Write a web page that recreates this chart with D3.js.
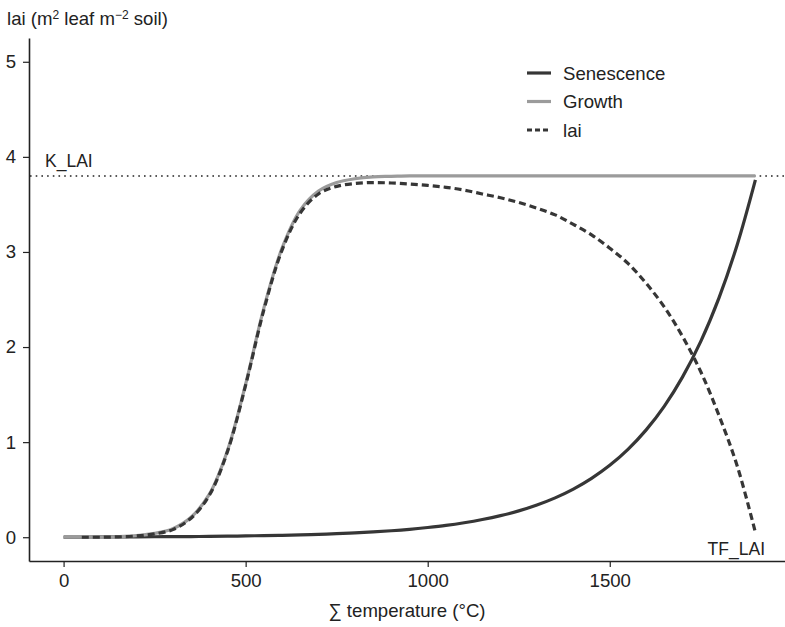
<!DOCTYPE html>
<html>
<head>
<meta charset="utf-8">
<script src="https://cdn.jsdelivr.net/npm/d3@7"></script>
<style>
  html, body { margin: 0; padding: 0; background: #fff; }
  svg { display: block; font-family: "Liberation Sans", Arial, Helvetica, sans-serif; }
</style>
</head>
<body>
<svg id="chart" width="785" height="627"></svg>
<script>
// ---- data ----
const temperature = [0,50,100,150,200,250,300,350,400,450,500,550,600,650,700,750,800,850,900,950,
  1000,1050,1100,1150,1200,1250,1300,1350,1400,1450,1500,1550,1600,1650,1700,1750,1800,1850,1900];
const growth = [0,0.001,0.003,0.007,0.017,0.04,0.09,0.21,0.45,0.91,1.61,2.41,3.04,3.44,3.64,3.73,3.77,3.79,3.795,3.80,
  3.80,3.80,3.80,3.80,3.80,3.80,3.80,3.80,3.80,3.80,3.80,3.80,3.80,3.80,3.80,3.80,3.80,3.80,3.80];
const senescence = [0.002,0.002,0.003,0.003,0.004,0.005,0.006,0.007,0.009,0.011,0.014,0.017,0.020,0.025,0.031,0.037,0.046,0.056,0.068,0.083,
  0.102,0.124,0.152,0.186,0.227,0.277,0.339,0.414,0.506,0.619,0.756,0.924,1.129,1.379,1.686,2.060,2.517,3.076,3.758];
const lai = [null,0.0,0.0,0.004,0.013,0.035,0.08,0.20,0.44,0.90,1.60,2.39,3.02,3.41,3.61,3.69,3.72,3.73,3.725,3.715,
  3.70,3.68,3.65,3.61,3.57,3.52,3.46,3.39,3.29,3.18,3.04,2.88,2.67,2.42,2.11,1.74,1.28,0.75,0.05];
const kLAI = 3.8;
const xTicks = [0, 500, 1000, 1500];
const yTicks = [0, 1, 2, 3, 4, 5];
const seriesNames = ["Senescence", "Growth", "lai"];

// ---- layout ----
const svg = d3.select("#chart");
const x = d3.scaleLinear().domain([-95, 1995]).range([29, 790]);
const y = d3.scaleLinear().domain([-0.25, 5.25]).range([561, 38]);
const dark = "#363636", grey = "#9b9b9b", axisCol = "#222";
const fs = 18.6;

// axes
const xAxis = svg.append("g").attr("transform", "translate(0,561)")
  .call(d3.axisBottom(x).tickValues(xTicks).tickFormat(d3.format("d"))
    .tickSize(6).tickPadding(7).tickSizeOuter(0));
const yAxis = svg.append("g").attr("transform", "translate(29,0)")
  .call(d3.axisLeft(y).tickValues(yTicks).tickFormat(d3.format("d"))
    .tickSize(6).tickPadding(7).tickSizeOuter(0));
[xAxis, yAxis].forEach(g => {
  g.select(".domain").attr("stroke", axisCol).attr("stroke-width", 1.6);
  g.selectAll(".tick line").attr("stroke", axisCol).attr("stroke-width", 1.2);
  g.selectAll(".tick text").attr("fill", "#222").style("font-size", fs + "px")
    .style("font-family", '"Liberation Sans", Arial, sans-serif');
});

// K_LAI dotted line
svg.append("line")
  .attr("x1", 30).attr("x2", 785)
  .attr("y1", y(kLAI)).attr("y2", y(kLAI))
  .attr("stroke", "#222").attr("stroke-width", 1.5)
  .attr("stroke-dasharray", "1.6,4.1");

const idx = d3.range(temperature.length);
const line = vals => d3.line()
  .defined(i => vals[i] !== null)
  .x(i => x(temperature[i]))
  .y(i => y(vals[i]))
  .curve(d3.curveCatmullRom.alpha(0.5))(idx);

svg.append("path").attr("d", line(senescence))
  .attr("fill", "none").attr("stroke", dark).attr("stroke-width", 3.2);
svg.append("path").attr("d", line(growth))
  .attr("fill", "none").attr("stroke", grey).attr("stroke-width", 3.2);
svg.append("path").attr("d", line(lai))
  .attr("fill", "none").attr("stroke", dark).attr("stroke-width", 3.2)
  .attr("stroke-dasharray", "7,4");

// annotations
svg.append("text").attr("x", 45).attr("y", 167).text("K_LAI")
  .attr("fill", "#222").style("font-size", "17.5px");
svg.append("text").attr("x", 765).attr("y", 555).attr("text-anchor", "end").text("TF_LAI")
  .attr("fill", "#222").style("font-size", "17.5px");

// y title
const yt = svg.append("text").attr("x", 7).attr("y", 25).attr("fill", "#222").style("font-size", fs + "px");
yt.append("tspan").text("lai (m");
yt.append("tspan").text("2").style("font-size", "12px").attr("dy", -6);
yt.append("tspan").text(" leaf m").attr("dy", 6);
yt.append("tspan").text("\u22122").style("font-size", "12px").attr("dy", -6);
yt.append("tspan").text(" soil)").attr("dy", 6);

// x title
svg.append("text").attr("x", 407).attr("y", 617).attr("text-anchor", "middle")
  .attr("fill", "#222").style("font-size", fs + "px").text("\u2211 temperature (\u00B0C)");

// legend
const legStyles = [
  {stroke: dark, dash: null},
  {stroke: grey, dash: null},
  {stroke: dark, dash: "5,3"}
];
const leg = svg.append("g");
seriesNames.forEach((name, i) => {
  const yy = 73 + i * 28.5;
  leg.append("line").attr("x1", 527).attr("x2", 551).attr("y1", yy).attr("y2", yy)
    .attr("stroke", legStyles[i].stroke).attr("stroke-width", 3.2)
    .attr("stroke-dasharray", legStyles[i].dash);
  leg.append("text").attr("x", 563).attr("y", yy + 6.5).text(name)
    .attr("fill", "#222").style("font-size", fs + "px");
});
</script>
</body>
</html>
